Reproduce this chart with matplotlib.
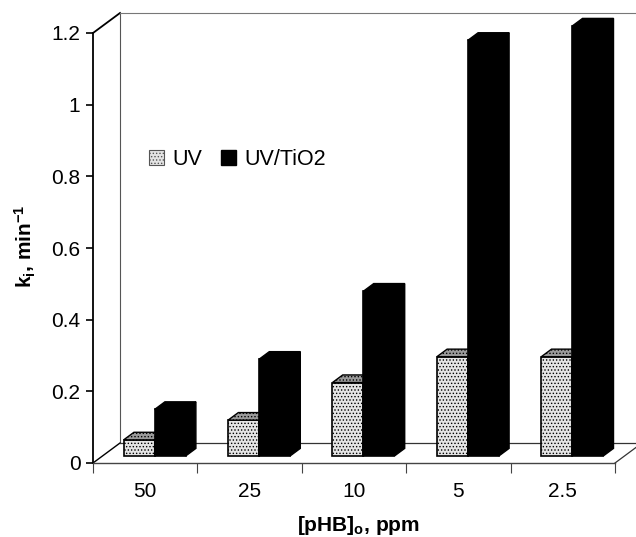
import matplotlib
matplotlib.use("Agg")
import matplotlib.pyplot as plt
from matplotlib.patches import Polygon, Patch
import numpy as np

plt.rcParams['font.family'] = ['Liberation Sans', 'DejaVu Sans']
plt.rcParams['mathtext.fontset'] = 'custom'
plt.rcParams['mathtext.rm'] = 'Liberation Sans'
plt.rcParams['mathtext.bf'] = 'Liberation Sans:bold'
plt.rcParams['mathtext.it'] = 'Liberation Sans:italic'
plt.rcParams['hatch.linewidth'] = 0.6

categories = ['50', '25', '10', '5', '2.5']
uv = [0.045, 0.10, 0.205, 0.277, 0.277]
uv_tio2 = [0.13, 0.27, 0.46, 1.16, 1.20]
series_names = ['UV', 'UV/TiO2']
yticks = [0, 0.2, 0.4, 0.6, 0.8, 1, 1.2]
ytick_labels = ['0', '0.2', '0.4', '0.6', '0.8', '1', '1.2']

W, H = 636, 537
fig = plt.figure(figsize=(W / 100, H / 100), dpi=100)
ax = fig.add_axes([93 / W, (H - 463) / H, (615 - 93) / W, (463 - 33) / H])
n = len(categories)
ymax = 1.2
ax.set_xlim(0, n)
ax.set_ylim(0, ymax)

# oblique depth (data units)
px_x = (615 - 93) / n
px_y = (463 - 33) / ymax
DX, DY = 27 / px_x, 20 / px_y

for s in ['top', 'right']:
    ax.spines[s].set_visible(False)
ax.spines['left'].set_linewidth(1.3)
ax.spines['bottom'].set_linewidth(1.0)
ax.spines['bottom'].set_color('#444444')

# frame of the 3D box
kw = dict(clip_on=False, zorder=1)
ax.plot([0, DX], [ymax, ymax + DY], color='black', lw=1.3, **kw)
ax.plot([DX, DX], [DY, ymax + DY], color='#555555', lw=0.8, **kw)
ax.plot([DX, n + DX + 1], [ymax + DY, ymax + DY], color='#777777', lw=0.8, **kw)
ax.plot([0, DX], [0, DY], color='black', lw=1.0, **kw)
ax.plot([DX, n + DX], [DY, DY], color='#333333', lw=0.9, **kw)
ax.plot([n, n + DX], [0, DY], color='#333333', lw=0.9, **kw)

# bars
f0, fd = 0.35, 0.38
sx, sy = f0 * DX, f0 * DY
bdx, bdy = fd * DX, fd * DY
w = 31 / px_x
centers = np.arange(n) + 0.5

def bar3d(x0, val, face, top, side, hatch):
    ax.bar(x0, val, bottom=sy, width=w, align='edge', facecolor=face,
           edgecolor='black', linewidth=1.2, hatch=hatch, zorder=3, clip_on=False)
    x1 = x0 + w
    yt = sy + val
    ax.add_patch(Polygon([(x0, yt), (x1, yt), (x1 + bdx, yt + bdy), (x0 + bdx, yt + bdy)],
                         closed=True, facecolor=top, edgecolor='black', lw=1.0,
                         hatch=hatch, zorder=3, clip_on=False))
    ax.add_patch(Polygon([(x1, sy), (x1, yt), (x1 + bdx, yt + bdy), (x1 + bdx, sy + bdy)],
                         closed=True, facecolor=side, edgecolor='black', lw=1.0,
                         zorder=3, clip_on=False))

for c, a, b in zip(centers, uv, uv_tio2):
    bar3d(c + sx - w, a, '#e4e4e4', '#9a9a9a', '#9a9a9a', '.....')
    bar3d(c + sx, b, 'black', 'black', 'black', None)

# ticks
ax.set_yticks(yticks)
ax.set_yticklabels(ytick_labels)
ax.set_xticks(np.arange(n + 1))
ax.set_xticklabels([''] * (n + 1))
ax.set_xticks(centers, minor=True)
ax.set_xticklabels(categories, minor=True)
ax.tick_params(axis='y', length=5, width=1.2, pad=4, labelsize=15)
ax.tick_params(axis='x', which='major', length=7, width=0.8, direction='out', color='#444444')
ax.tick_params(axis='x', which='minor', length=0, pad=14, labelsize=15)

ax.set_xlabel('[pHB]$_\\mathbf{o}$, ppm', fontsize=15, fontweight='bold')
ax.xaxis.set_label_coords(0.508, -0.118)
ax.set_ylabel('k$_\\mathbf{i}$, min$^\\mathbf{-1}$', fontsize=15, fontweight='bold')
ax.yaxis.set_label_coords(-0.105, 0.505)

# legend
handles = [Patch(facecolor='#e4e4e4', edgecolor='#555555', hatch='.....', lw=0.8),
           Patch(facecolor='black', edgecolor='black')]
ax.legend(handles, series_names, loc='center left', bbox_to_anchor=(0.107, 0.705),
          ncol=2, frameon=False, fontsize=15.5, handlelength=0.7, handleheight=0.7,
          handletextpad=0.4, columnspacing=0.85, borderpad=0, borderaxespad=0)

fig.savefig('out.png', dpi=100)
